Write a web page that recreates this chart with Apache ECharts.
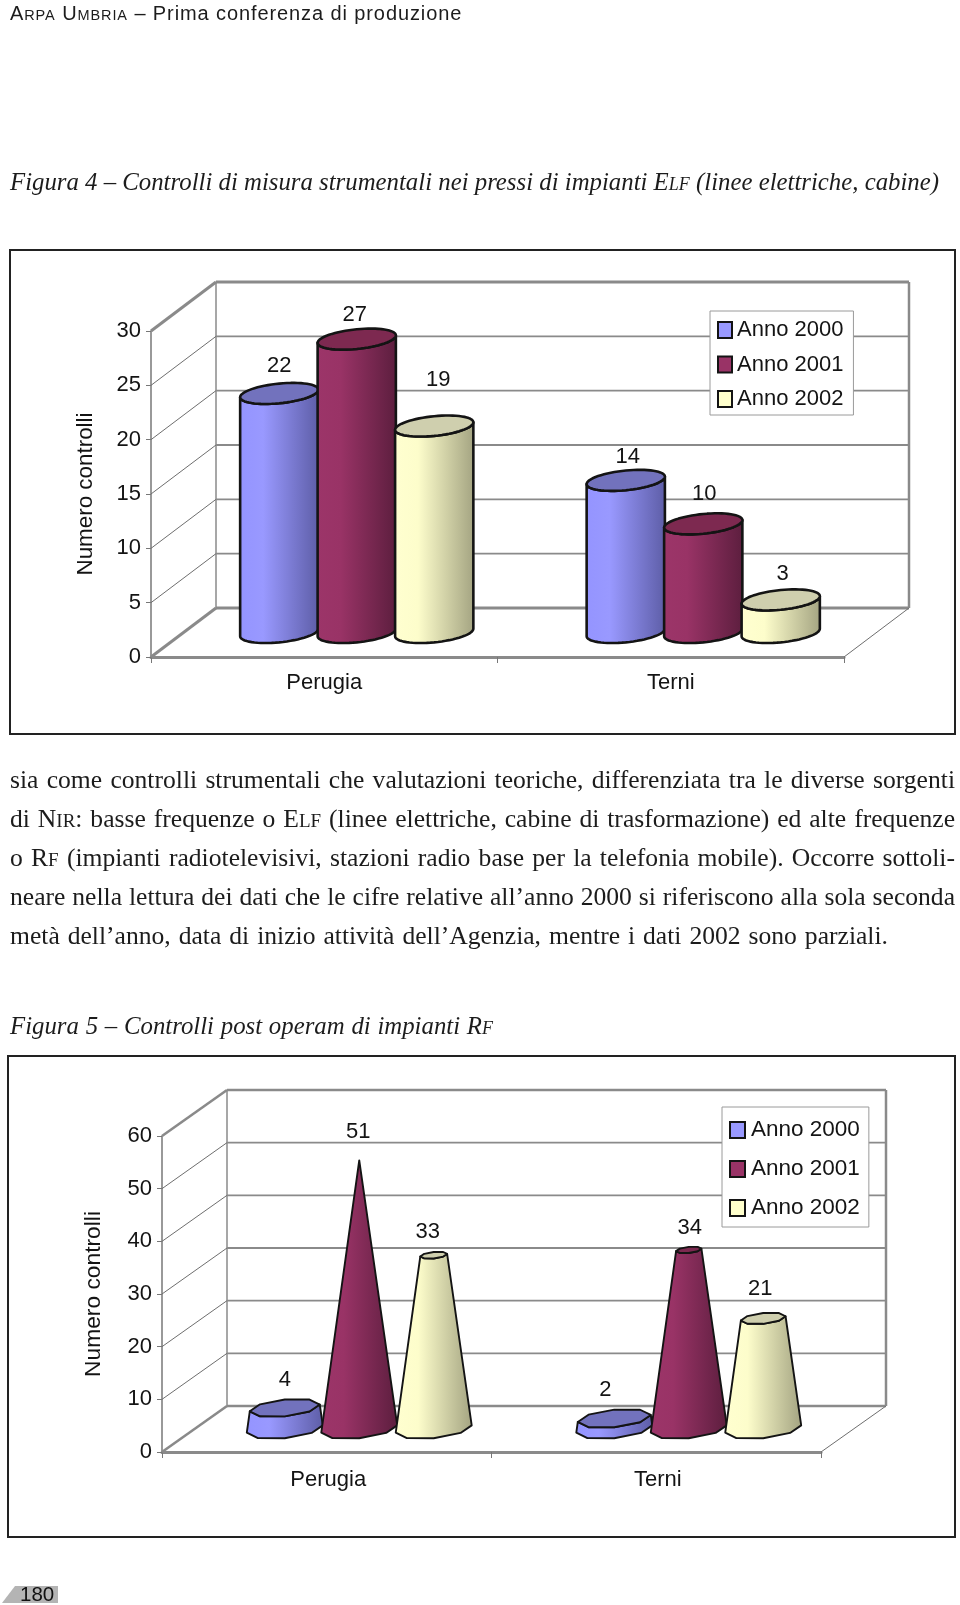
<!DOCTYPE html>
<html lang="it">
<head>
<meta charset="utf-8">
<title>Arpa Umbria</title>
<script src="https://cdn.jsdelivr.net/npm/echarts@6/dist/echarts.min.js"></script>
<style>
html,body{margin:0;padding:0;background:#fff;}
#page{position:relative;width:960px;height:1605px;overflow:hidden;color:#1c1c1c;}
#main{position:absolute;left:0;top:0;width:960px;height:1605px;}
.t{position:absolute;white-space:nowrap;z-index:2;}
.head{left:10px;top:0;font:20px/26px "Liberation Sans",sans-serif;letter-spacing:0.9px;}
.head small{font-size:14.5px;}
.cap{left:10px;font:italic 24.8px/32px "Liberation Serif",serif;text-align:justify;text-align-last:justify;}
.cap small{font-size:18px;}
.body{left:10px;width:945px;font:25.6px/32px "Liberation Serif",serif;text-align:justify;text-align-last:justify;}
.body small{font-size:19px;}
</style>
</head>
<body>
<div id="page">
<div id="main"></div>
<div class="t head">A<small>RPA</small> U<small>MBRIA</small> – Prima conferenza di produzione</div>
<div class="t cap" style="top:166px;width:928px">Figura 4 – Controlli di misura strumentali nei pressi di impianti E<small>LF</small> (linee elettriche, cabine)</div>
<div class="t body" style="top:764px">sia come controlli strumentali che valutazioni teoriche, differenziata tra le diverse sorgenti</div>
<div class="t body" style="top:803px">di N<small>IR</small>: basse frequenze o E<small>LF</small> (linee elettriche, cabine di trasformazione) ed alte frequenze</div>
<div class="t body" style="top:842px">o R<small>F</small> (impianti radiotelevisivi, stazioni radio base per la telefonia mobile). Occorre sottoli-</div>
<div class="t body" style="top:881px">neare nella lettura dei dati che le cifre relative all’anno 2000 si riferiscono alla sola seconda</div>
<div class="t body" style="top:920px;width:878px">metà dell’anno, data di inizio attività dell’Agenzia, mentre i dati 2002 sono parziali.</div>
<div class="t cap" style="top:1010px;width:483px">Figura 5 – Controlli post operam di impianti R<small>F</small></div>
</div>
<script>
// ---------- data ----------
const categories = ['Perugia', 'Terni'];
const seriesNames = ['Anno 2000', 'Anno 2001', 'Anno 2002'];
const fig4Anno2000 = [22, 14];
const fig4Anno2001 = [27, 10];
const fig4Anno2002 = [19, 3];
const fig5Anno2000 = [4, 2];
const fig5Anno2001 = [51, 34];
const fig5Anno2002 = [33, 21];
const fig4Ticks = [0, 5, 10, 15, 20, 25, 30];
const fig5Ticks = [0, 10, 20, 30, 40, 50, 60];
const axisTitle = 'Numero controlli';
const pageNumber = '180';

// ---------- style ----------
const SANS = '"Liberation Sans", Arial, sans-serif';
const INK = '#141414';
const GREY = '#8a8a8a';
const palette = [
  {stops: ['#9494ff', '#9999ff', '#5d5da6'], top: '#7272bd', swatch: '#9999ff'},
  {stops: ['#9c3569', '#993366', '#5c1e3e'], top: '#7d2950', swatch: '#993366'},
  {stops: ['#ffffd0', '#fdfdcb', '#a3a381'], top: '#cfcfae', swatch: '#ffffcc'}
];
// manual label nudges of the original: [dx, dy] from the top centre of each solid
const fig4LabelShift = [[[0, -27], [2, -23]], [[-2, -24], [1, -30]], [[4, -46], [2, -26]]];
const fig5LabelShift = [[[0, -28], [-9, -29]], [[-1, -28], [1, -22]], [[-6, -23], [-3, -29]]];

const fig4 = {depth: [65, -49], barStep: 0.2236, barHalf: 0.505, lw: 2.6, shape: 'cylinder', facets: 64, shift: fig4LabelShift, max: 27, heavy: 3};
const fig5 = {depth: [65, -46], barStep: 0.2260, barHalf: 0.510, lw: 1.9, shape: 'cone', facets: 8, shift: fig5LabelShift, max: 51, heavy: 2.6};

function wallItem(cfg, ticks) {
  return function (params, api) {
    const cs = params.coordSys, L = cs.x, R = cs.x + cs.width;
    const v = api.value(1), y = api.coord([0, v])[1];
    const dx = cfg.depth[0], dy = cfg.depth[1];
    const first = v === ticks[0], last = v === ticks[ticks.length - 1];
    const heavy = first || last;
    const kids = [
      {type: 'line', shape: {x1: L, y1: y, x2: L + dx, y2: y + dy},
       style: {stroke: heavy ? GREY : '#6e6e6e', lineWidth: heavy ? cfg.heavy : 1}},
      {type: 'line', shape: {x1: L + dx, y1: y + dy, x2: R + dx, y2: y + dy},
       style: {stroke: GREY, lineWidth: heavy ? cfg.heavy : 1.8}}
    ];
    if (first) {
      const topY = api.coord([0, ticks[ticks.length - 1]])[1] + dy;
      kids.push(
        {type: 'line', shape: {x1: R, y1: y, x2: R + dx, y2: y + dy}, style: {stroke: '#6e6e6e', lineWidth: 1}},
        {type: 'line', shape: {x1: L + dx, y1: y + dy, x2: L + dx, y2: topY}, style: {stroke: GREY, lineWidth: 1.5}},
        {type: 'line', shape: {x1: R + dx, y1: y + dy, x2: R + dx, y2: topY}, style: {stroke: GREY, lineWidth: 2.5}}
      );
    }
    return {type: 'group', children: kids};
  };
}

function solidItem(cfg, si) {
  return function (params, api) {
    const cat = api.value(0), v = api.value(1);
    const base = api.coord([cat, 0]), top = api.coord([cat, v]);
    const step = api.size([1, 0])[0] * cfg.barStep;
    const cx = base[0] + cfg.depth[0] / 2 + step * (si - 1);
    const by = base[1] + cfg.depth[1] / 2;
    const ty = top[1] + cfg.depth[1] / 2;
    const W = step * cfg.barHalf;
    const vx = cfg.depth[0] * 0.215, vy = -cfg.depth[1] * 0.215;
    const ux = Math.sqrt(W * W - vx * vx);
    const t0 = Math.atan2(vx, ux);
    const scale = cfg.shape === 'cone' ? 1 - v / cfg.max : 1;
    const at = (k, cy, t) => [cx + k * (ux * Math.cos(t) + vx * Math.sin(t)), cy - k * vy * Math.sin(t)];
    const half = cfg.facets / 2, body = [], cap = [];
    for (let i = 0; i <= half; i++) body.push(at(1, by, t0 - Math.PI * i / half));
    for (let i = half; i >= 0; i--) body.push(at(scale, ty, t0 - Math.PI * i / half));
    for (let i = 0; i < cfg.facets; i++) cap.push(at(scale, ty, t0 + 2 * Math.PI * i / cfg.facets));
    const c = palette[si];
    const kids = [{
      type: 'polygon', shape: {points: body},
      style: {
        fill: new echarts.graphic.LinearGradient(0, 0, 1, 0, [
          {offset: 0, color: c.stops[0]}, {offset: 0.3, color: c.stops[1]}, {offset: 1, color: c.stops[2]}
        ]),
        stroke: INK, lineWidth: cfg.lw, lineJoin: 'round'
      }
    }];
    if (scale > 0.02) {
      kids.push({type: 'polygon', shape: {points: cap},
        style: {fill: c.top, stroke: INK, lineWidth: cfg.lw, lineJoin: 'round'}});
    }
    const sh = cfg.shift[si][cat];
    kids.push({type: 'text', z2: 50, style: {
      text: String(v), x: cx + sh[0], y: ty + sh[1], fill: INK,
      font: '22px ' + SANS, textAlign: 'center', textVerticalAlign: 'middle'
    }});
    return {type: 'group', children: kids};
  };
}

function pairs(values) { return values.map((v, i) => [i, v]); }

function chartSeries(cfg, ticks, rows, gridIndex) {
  const list = [{
    type: 'custom', name: 'pareti', xAxisIndex: gridIndex, yAxisIndex: gridIndex, silent: true, z: 1, clip: false,
    data: ticks.map(t => [0, t]), encode: {x: 0, y: 1}, renderItem: wallItem(cfg, ticks)
  }];
  rows.forEach((vals, si) => list.push({
    type: 'custom', name: seriesNames[si], xAxisIndex: gridIndex, yAxisIndex: gridIndex, silent: true, z: 3 + si, clip: false,
    itemStyle: {color: palette[si].swatch},
    data: pairs(vals), encode: {x: 0, y: 1}, renderItem: solidItem(cfg, si)
  }));
  return list;
}

function xAxis(gridIndex, margin, pad) {
  return {
    type: 'category', gridIndex, data: categories, silent: true,
    axisLine: {show: true, lineStyle: {color: GREY, width: 3}},
    axisTick: {show: true, alignWithLabel: false, length: 6, lineStyle: {color: '#777', width: 1}},
    axisLabel: {color: INK, fontSize: 22, fontFamily: SANS, margin, padding: pad},
    splitLine: {show: false}
  };
}
function yAxis(gridIndex, max, interval, gap, nameSize, labelPad) {
  return {
    type: 'value', gridIndex, min: 0, max, interval, silent: true,
    name: axisTitle, nameLocation: 'middle', nameRotate: 90, nameGap: gap,
    nameTextStyle: {color: INK, fontSize: nameSize, fontFamily: SANS},
    axisLine: {show: true, lineStyle: {color: '#777', width: 1.5}},
    axisTick: {show: true, length: 5, lineStyle: {color: '#777', width: 1}},
    axisLabel: {color: INK, fontSize: 22, fontFamily: SANS, margin: 10, padding: labelPad},
    splitLine: {show: false}
  };
}
function legendItems() {
  return seriesNames.map((name, i) => ({
    name, icon: 'rect', itemStyle: {color: palette[i].swatch, borderColor: INK, borderWidth: 2}
  }));
}
function legend(left, top, pad, gap, w, h, size, textPad) {
  return {
    left, top, orient: 'vertical', selectedMode: false, data: legendItems(),
    backgroundColor: '#fff', borderColor: '#9a9a9a', borderWidth: 1, padding: pad,
    itemGap: gap, itemWidth: w, itemHeight: h,
    textStyle: {color: INK, fontSize: size, fontFamily: SANS, lineHeight: 24, padding: textPad}
  };
}

const chart = echarts.init(document.getElementById('main'), null, {renderer: 'canvas'});
chart.setOption({
  animation: false,
  backgroundColor: '#ffffff',
  tooltip: {show: false},
  grid: [
    {left: 151, top: 331, width: 693, height: 326},
    {left: 162, top: 1136, width: 659, height: 316}
  ],
  xAxis: [xAxis(0, 15, [0, 0, 0, 0]), xAxis(1, 17, [0, 0, 0, 3])],
  yAxis: [yAxis(0, 30, 5, 54, 22.4, [3, 0, 0, 0]), yAxis(1, 60, 10, 57, 22.8, [0, 0, 0, 0])],
  legend: [
    legend(710, 311, [7, 10, 4, 7], 10.5, 14, 16, 22, [0, 0, 0, 0]),
    legend(722, 1107, [9, 9, 5, 7], 11, 15, 16, 22.5, [0, 0, 4, 1])
  ],
  graphic: [
    {type: 'rect', silent: true, z: -1, shape: {x: 10, y: 250, width: 945, height: 484},
     style: {fill: '#fff', stroke: '#222', lineWidth: 2}},
    {type: 'rect', silent: true, z: -1, shape: {x: 8, y: 1056, width: 947, height: 481},
     style: {fill: '#fff', stroke: '#222', lineWidth: 2}},
    {type: 'polygon', silent: true, z: -1, shape: {points: [[2, 1603], [15, 1586], [58, 1586], [58, 1603]]},
     style: {fill: '#b4b4b4'}},
    {type: 'text', silent: true, z: 10, x: 20, y: 1595,
     style: {text: pageNumber, fill: '#111', font: '20.5px ' + SANS, textVerticalAlign: 'middle'}}
  ],
  series: [
    ...chartSeries(fig4, fig4Ticks, [fig4Anno2000, fig4Anno2001, fig4Anno2002], 0),
    ...chartSeries(fig5, fig5Ticks, [fig5Anno2000, fig5Anno2001, fig5Anno2002], 1)
  ]
});
</script>
</body>
</html>
